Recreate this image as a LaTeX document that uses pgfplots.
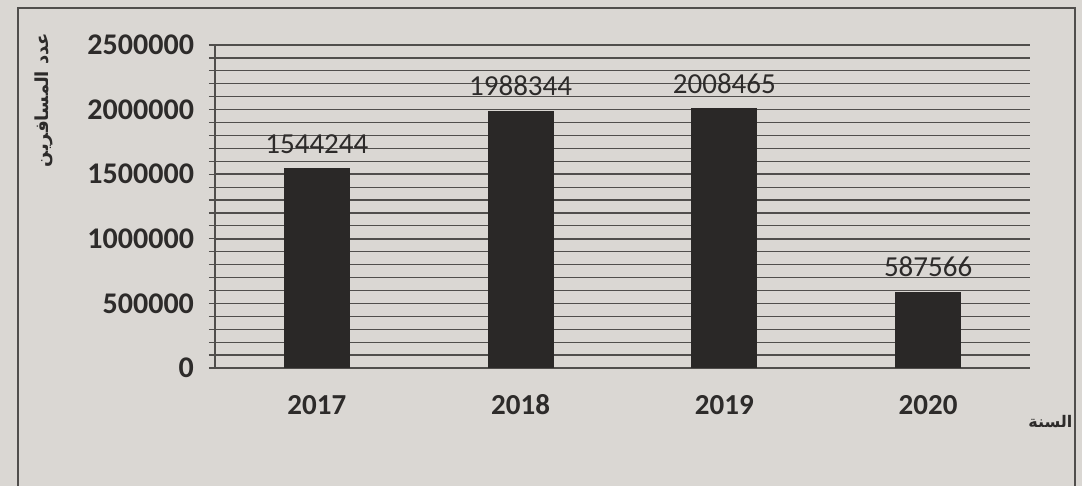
\documentclass[border=0pt]{standalone}
\usepackage{pgfplots}
\pgfplotsset{compat=1.18}
\usepackage{fontspec}
\setmainfont{Carlito}
\newfontfamily\arabicfont[Script=Arabic]{DejaVu Sans}
\TeXXeTstate=1
\definecolor{paper}{RGB}{218,215,211}
\definecolor{barc}{RGB}{42,40,39}
\definecolor{gridc}{RGB}{80,78,76}
\definecolor{txt}{RGB}{45,43,42}
\begin{document}
\begin{tikzpicture}
\fill[paper] (-107.5pt,-59pt) rectangle (433.5pt,184pt);
\path[use as bounding box] (-107.5pt,-59pt) rectangle (433.5pt,184pt);
\draw[gridc, line width=0.7pt] (-98.5pt,-65pt) -- (-98.5pt,180pt) -- (430pt,180pt) -- (430pt,-65pt);
\begin{axis}[
  at={(0,0)}, anchor=south west, scale only axis,
  width=407.5pt, height=161.5pt,
  xmin=-0.5, xmax=3.5, ymin=0, ymax=2500000,
  xtick={0,1,2,3}, xticklabels={2017,2018,2019,2020},
  ytick={0,500000,1000000,1500000,2000000,2500000},
  minor y tick num=4,
  scaled y ticks=false,
  /pgf/number format/assume math mode=true,
  yticklabel style={/pgf/number format/fixed, /pgf/number format/1000 sep={}, font=\fontsize{15}{18}\selectfont\bfseries, text=txt, xshift=-4pt},
  xticklabel style={font=\fontsize{14.5}{17}\selectfont\bfseries, text=txt, yshift=-10pt, text height=1.4ex, text depth=0pt},
  axis x line=bottom, axis y line=left,
  axis line style={-, gridc, line width=0.8pt},
  x axis line style={-},
  ymajorgrids, yminorgrids,
  major grid style={gridc, line width=0.8pt},
  minor grid style={gridc, line width=0.6pt},
  tick align=outside,
  major tick length=3pt, minor tick length=3pt,
  xtick style={draw=none},
  ytick style={gridc, line width=0.6pt},
  ybar, bar width=32.5pt,
  nodes near coords,
  nodes near coords style={font=\fontsize{14.5}{17}\selectfont, text=txt, yshift=4pt, /pgf/number format/fixed, /pgf/number format/1000 sep={}},
  ylabel={\arabicfont\bfseries\small\beginR عدد المسافرين\endR},
  ylabel style={at={(axis description cs:-0.21,0.83)}, anchor=center, text=txt},
  xlabel={\arabicfont\bfseries\footnotesize\beginR السنة\endR},
  xlabel style={at={(axis description cs:1.025,-0.165)}, anchor=center, text=txt},
]
\addplot[fill=barc, draw=barc] coordinates {(0,1544244) (1,1988344) (2,2008465) (3,587566)};
\end{axis}
\end{tikzpicture}
\end{document}
